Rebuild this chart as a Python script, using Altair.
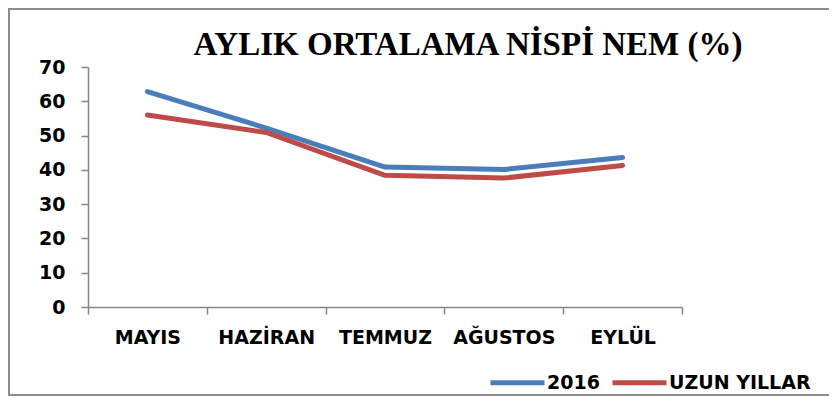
import altair as alt
import pandas as pd

months = ["MAYIS", "HAZİRAN", "TEMMUZ", "AĞUSTOS", "EYLÜL"]
series_2016 = [62.8, 52.2, 40.8, 40.1, 43.6]
series_uzun = [56.0, 50.9, 38.4, 37.6, 41.3]
series_names = ["2016", "UZUN YILLAR"]
colors = ["#4A7EBB", "#BE4B48"]

rows = []
for m, v in zip(months, series_2016):
    rows.append({"ay": m, "seri": series_names[0], "deger": v})
for m, v in zip(months, series_uzun):
    rows.append({"ay": m, "seri": series_names[1], "deger": v})
df = pd.DataFrame(rows)

FONT = "DejaVu Sans"

lines = alt.Chart(df).mark_line(strokeWidth=5, strokeCap="round", strokeJoin="round").encode(
    x=alt.X("ay:N", sort=months, title=None,
            scale=alt.Scale(paddingInner=0, paddingOuter=0),
            axis=alt.Axis(labelAngle=0, tickBand="extent", domainColor="#868686",
                          domainWidth=1.5, tickColor="#868686", tickWidth=1.5,
                          tickSize=7, labelPadding=14, labelFont=FONT,
                          labelFontWeight="bold", labelFontSize=19, labelColor="black")),
    y=alt.Y("deger:Q", title=None,
            scale=alt.Scale(domain=[0, 70]),
            axis=alt.Axis(values=[0, 10, 20, 30, 40, 50, 60, 70], grid=False,
                          domainColor="#868686", domainWidth=1.5, tickColor="#868686",
                          tickWidth=1.5, tickSize=7, labelPadding=16, labelFont=FONT,
                          labelFontWeight="bold", labelFontSize=19, labelColor="black")),
    color=alt.Color("seri:N", sort=series_names,
                    scale=alt.Scale(domain=series_names, range=colors),
                    legend=alt.Legend(title=None, orient="none", direction="horizontal",
                                      legendX=400, legendY=286, symbolType="stroke",
                                      symbolSize=2916, symbolStrokeWidth=5,
                                      labelFont=FONT, labelFontWeight="bold",
                                      labelFontSize=19, labelColor="black",
                                      labelOffset=0, columnPadding=2)),
)

frame = alt.Chart(pd.DataFrame({"k": [0]})).mark_rect(
    fill=None, stroke="#8C8C8C", strokeWidth=2
).encode(
    x=alt.value(-79), x2=alt.value(760), y=alt.value(-58), y2=alt.value(328)
)

chart = alt.layer(frame, lines).properties(
    width=594, height=240,
    padding={"left": 80, "top": 59, "right": 147, "bottom": 90},
    autosize=alt.AutoSizeParams(type="none"),
    title=alt.TitleParams("AYLIK ORTALAMA NİSPİ NEM (%)", font="Liberation Serif",
                          fontSize=33, fontWeight="bold", color="black",
                          anchor="middle", dx=83, dy=87, offset=7, baseline="alphabetic",
                          frame="group"),
).configure(background="white", view=alt.ViewConfig(stroke=None))

chart.save("out.html", embed_options={"renderer": "svg", "actions": False})
